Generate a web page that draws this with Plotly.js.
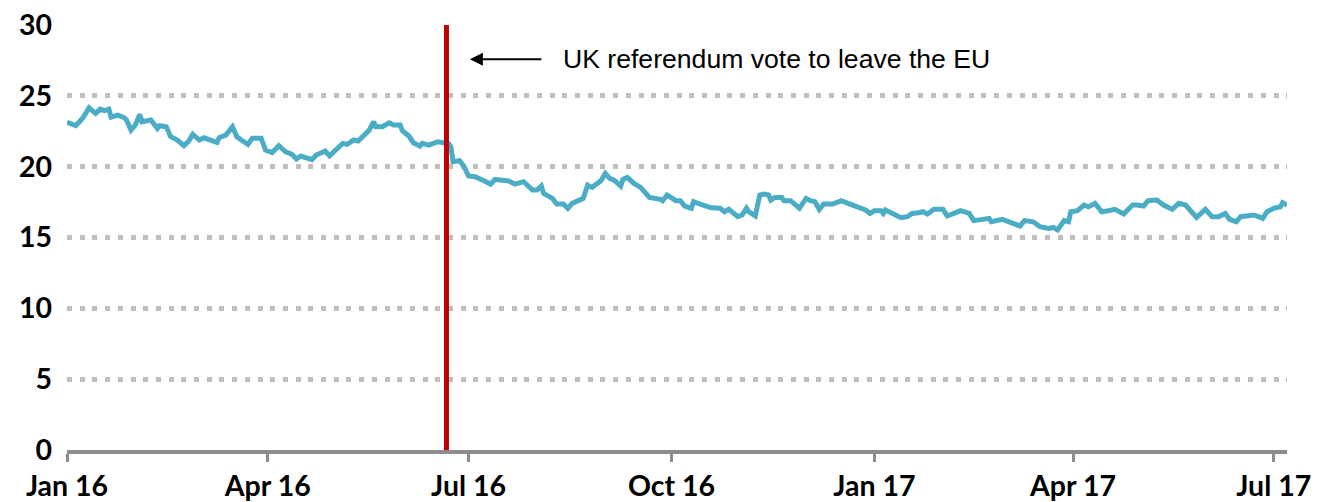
<!DOCTYPE html>
<html>
<head>
<meta charset="utf-8">
<script src="https://cdn.plot.ly/plotly-3.0.1.min.js"></script>
<style>
  html, body { margin: 0; padding: 0; background: #ffffff; }
  #chart { width: 1324px; height: 502px; }
</style>
</head>
<body>
<div id="chart"></div>
<script>
const dates = [
  '2016-01-01','2016-01-05','2016-01-08','2016-01-11','2016-01-14','2016-01-16','2016-01-18','2016-01-20','2016-01-21','2016-01-24',
  '2016-01-27','2016-01-28','2016-01-30','2016-02-01','2016-02-03','2016-02-04','2016-02-08','2016-02-11','2016-02-12','2016-02-15',
  '2016-02-17','2016-02-20','2016-02-23','2016-02-25','2016-02-27','2016-03-01','2016-03-03','2016-03-07','2016-03-09','2016-03-10',
  '2016-03-13','2016-03-16','2016-03-18','2016-03-20','2016-03-23','2016-03-25','2016-03-29','2016-03-31','2016-04-03','2016-04-06',
  '2016-04-09','2016-04-12','2016-04-14','2016-04-16','2016-04-21','2016-04-23','2016-04-27','2016-04-29','2016-05-02','2016-05-05',
  '2016-05-07','2016-05-10','2016-05-12','2016-05-15','2016-05-17','2016-05-19','2016-05-20','2016-05-23','2016-05-26','2016-05-28',
  '2016-05-31','2016-06-01','2016-06-04','2016-06-06','2016-06-09','2016-06-10','2016-06-13','2016-06-17','2016-06-20','2016-06-22',
  '2016-06-23','2016-06-24','2016-06-27','2016-06-29','2016-07-01','2016-07-04','2016-07-08','2016-07-11','2016-07-13','2016-07-17',
  '2016-07-19','2016-07-22','2016-07-26','2016-07-30','2016-08-01','2016-08-03','2016-08-04','2016-08-08','2016-08-10','2016-08-13',
  '2016-08-15','2016-08-17','2016-08-21','2016-08-22','2016-08-24','2016-08-26','2016-08-30','2016-09-01','2016-09-03','2016-09-05',
  '2016-09-08','2016-09-09','2016-09-11','2016-09-14','2016-09-17','2016-09-19','2016-09-21','2016-09-26','2016-09-27','2016-09-29',
  '2016-10-03','2016-10-05','2016-10-07','2016-10-10','2016-10-11','2016-10-14','2016-10-18','2016-10-19','2016-10-23','2016-10-25',
  '2016-10-27','2016-10-29','2016-10-31','2016-11-02','2016-11-04','2016-11-05','2016-11-08','2016-11-10','2016-11-12','2016-11-14',
  '2016-11-15','2016-11-17','2016-11-20','2016-11-21','2016-11-24','2016-11-28','2016-12-01','2016-12-03','2016-12-05','2016-12-07',
  '2016-12-09','2016-12-13','2016-12-17','2016-12-20','2016-12-24','2016-12-28','2016-12-30','2017-01-01','2017-01-04','2017-01-05',
  '2017-01-06','2017-01-10','2017-01-12','2017-01-13','2017-01-16','2017-01-18','2017-01-21','2017-01-23','2017-01-25','2017-01-28',
  '2017-02-01','2017-02-03','2017-02-06','2017-02-09','2017-02-13','2017-02-15','2017-02-19','2017-02-22','2017-02-23','2017-02-25',
  '2017-02-28','2017-03-03','2017-03-08','2017-03-10','2017-03-14','2017-03-17','2017-03-21','2017-03-23','2017-03-25','2017-03-28',
  '2017-03-30','2017-03-31','2017-04-03','2017-04-06','2017-04-08','2017-04-11','2017-04-14','2017-04-17','2017-04-20','2017-04-24',
  '2017-04-28','2017-04-30','2017-05-03','2017-05-05','2017-05-09','2017-05-12','2017-05-16','2017-05-19','2017-05-22','2017-05-27',
  '2017-05-31','2017-06-03','2017-06-06','2017-06-09','2017-06-11','2017-06-14','2017-06-16','2017-06-22','2017-06-26','2017-06-28',
  '2017-07-01','2017-07-04','2017-07-05','2017-07-07'
];
const values = [
  23.13,22.9,23.4,24.15,23.76,24.06,23.95,24.06,23.5,23.64,
  23.45,23.29,22.58,22.94,23.69,23.17,23.29,22.7,22.89,22.82,
  22.11,21.88,21.48,21.76,22.28,21.88,22.04,21.81,21.71,22.04,
  22.23,22.82,22.11,21.88,21.57,22.0,22.0,21.17,21.0,21.48,
  21.06,20.87,20.54,20.75,20.5,20.82,21.1,20.77,21.17,21.64,
  21.57,21.88,21.81,22.28,22.58,23.17,22.82,22.82,23.1,22.94,
  22.94,22.54,22.16,21.69,21.45,21.64,21.52,21.76,21.71,21.64,
  21.41,20.35,20.42,20.0,19.34,19.29,19.0,18.77,19.1,19.0,
  19.0,18.77,18.94,18.35,18.35,18.63,18.12,17.76,17.36,17.36,
  17.06,17.41,17.69,17.76,18.7,18.54,19.0,19.52,19.17,19.05,
  18.63,19.1,19.24,18.82,18.54,18.23,17.83,17.69,17.6,18.0,
  17.6,17.6,17.22,17.06,17.53,17.36,17.22,17.1,17.06,16.82,
  16.99,16.75,16.47,16.59,17.06,16.82,16.52,18.0,18.07,18.0,
  17.64,17.83,17.83,17.6,17.6,17.06,17.76,17.6,17.53,16.99,
  17.36,17.36,17.6,17.41,17.17,16.94,16.7,16.89,16.89,16.7,
  16.94,16.59,16.47,16.4,16.47,16.7,16.75,16.82,16.66,16.99,
  16.99,16.52,16.7,16.89,16.7,16.19,16.28,16.35,16.11,16.19,
  16.28,16.11,15.81,16.19,16.11,15.76,15.64,15.71,15.53,16.19,
  16.11,16.82,16.89,17.29,17.17,17.41,16.82,16.89,16.99,16.66,
  17.29,17.29,17.22,17.6,17.64,17.29,16.99,17.41,17.29,16.42,
  16.99,16.47,16.47,16.7,16.28,16.11,16.47,16.59,16.35,16.82,
  17.06,17.17,17.46,17.29
];
const xTickVals = ['2016-01-01','2016-04-01','2016-07-01','2016-10-01','2017-01-01','2017-04-01','2017-07-01'];
const xTickText = ['Jan 16','Apr 16','Jul 16','Oct 16','Jan 17','Apr 17','Jul 17'];
const yTickVals = [0,5,10,15,20,25,30];
const yTickText = ['0','5','10','15','20','25','30'];
const referendumDate = '2016-06-21';
const annotationText = 'UK referendum vote to leave the EU';

const tickFont = {family: 'Lato, "Liberation Sans Narrow", sans-serif', size: 28.5, color: '#000000', weight: 'bold'};

const trace = {
  type: 'scatter', mode: 'lines', x: dates, y: values,
  line: {color: '#4BACC6', width: 5}, hoverinfo: 'skip'
};

const layout = {
  width: 1324, height: 502,
  margin: {l: 67, r: 37, t: 25, b: 52},
  paper_bgcolor: '#ffffff', plot_bgcolor: '#ffffff',
  showlegend: false,
  xaxis: {
    type: 'date', range: ['2016-01-01', '2017-07-07'],
    tickvals: xTickVals, ticktext: xTickText,
    ticks: 'outside', ticklen: 8, tickwidth: 3, tickcolor: '#8C8C8C',
    showline: true, linecolor: '#8C8C8C', linewidth: 4,
    showgrid: false, zeroline: false, tickfont: tickFont
  },
  yaxis: {
    range: [0, 30], tickvals: yTickVals, ticktext: yTickText,
    ticks: '', showline: false, zeroline: false,
    showgrid: true, gridcolor: '#BFBFBF', gridwidth: 5, griddash: '5px,7.7px',
    tickfont: tickFont, ticklabelstandoff: 14
  },
  shapes: [{
    type: 'line', xref: 'x', yref: 'y', x0: referendumDate, x1: referendumDate, y0: 0, y1: 30,
    line: {color: '#C00000', width: 5}, layer: 'above'
  }],
  annotations: [
    {
      xref: 'x', yref: 'y', axref: 'x', ayref: 'y',
      x: '2016-07-01 15:00', y: 27.58, ax: '2016-08-03 17:00', ay: 27.58,
      text: '', showarrow: true, arrowhead: 2, arrowsize: 1.3, arrowwidth: 2, arrowcolor: '#000000'
    },
    {
      xref: 'x', yref: 'y', x: '2016-08-12', y: 27.6, xanchor: 'left', yanchor: 'middle',
      text: annotationText, showarrow: false,
      font: {family: '"Liberation Sans", Arial, sans-serif', size: 26.6, color: '#000000'}
    }
  ]
};

Plotly.newPlot('chart', [trace], layout, {staticPlot: true, displayModeBar: false});
</script>
</body>
</html>
